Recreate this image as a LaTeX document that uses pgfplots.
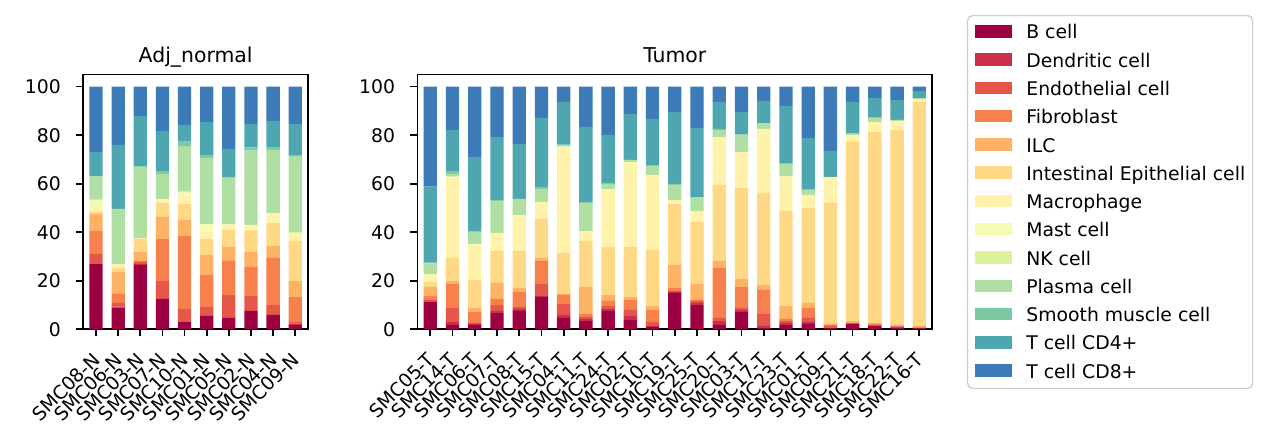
\documentclass[border=0pt]{standalone}
\usepackage{pgfplots}
\pgfplotsset{compat=1.18}
\usepackage{pgfplotstable}
\usepackage{fontspec}
\setmainfont{DejaVu Sans}

\definecolor{cB}{RGB}{158,1,66}
\definecolor{cD}{RGB}{200,48,76}
\definecolor{cEn}{RGB}{230,87,73}
\definecolor{cF}{RGB}{247,129,76}
\definecolor{cILC}{RGB}{253,178,100}
\definecolor{cIE}{RGB}{254,216,133}
\definecolor{cMac}{RGB}{255,243,171}
\definecolor{cMast}{RGB}{245,251,176}
\definecolor{cNK}{RGB}{221,241,154}
\definecolor{cPl}{RGB}{175,223,163}
\definecolor{cSm}{RGB}{123,202,165}
\definecolor{cCD4}{RGB}{78,167,176}
\definecolor{cCD8}{RGB}{60,123,183}

\pgfplotstableread{
name B D En F ILC IE Mac Mast NK Pl Sm CD4 CD8
SMC08-N 26.9 0 4.1 9.5 7.0 0.9 1.9 2.7 0.4 9.5 0.3 9.9 26.9
SMC06-N 8.9 0.4 1.6 3.7 9.0 1.7 1.6 0 0 22.7 0 26.4 24.0
SMC03-N 26.5 0.5 0.8 0.3 3.8 5.5 0.2 0 0 29.2 0.3 20.8 12.1
SMC07-N 12.5 0 7.4 17.3 9.1 5.8 1.6 0 0 10.3 1.2 16.5 18.3
SMC10-N 3.0 0 5.4 30.1 6.6 6.5 3.9 0.8 0.4 18.8 1.8 6.9 15.8
SMC01-N 5.5 0 3.7 13.2 8.2 6.6 3.0 3.2 0 27.2 1.2 13.6 14.6
SMC05-N 4.7 0 9.4 14.1 5.7 7.0 2.0 0.2 0.3 19.1 0 11.8 25.7
SMC02-N 7.6 0 6.1 12.0 6.2 9.0 2.1 0 0 30.6 1.4 9.6 15.4
SMC04-N 5.9 0 4.1 19.4 4.9 9.5 4.1 0 0 26.0 1.2 10.8 14.1
SMC09-N 1.8 0.5 0.7 10.3 6.6 16.5 3.2 0 0.5 31.1 0.6 12.8 15.4
}\normaldata

\pgfplotstableread{
name B D En F ILC IE Mac Mast NK Pl Sm CD4 CD8
SMC05-T 11.4 0.3 0.4 1.6 3.7 2.1 2.9 0.2 0 4.6 0.3 31.3 41.2
SMC14-T 1.8 1.2 5.8 9.9 1.2 9.5 33.1 0.4 0 1.2 1.1 16.9 17.9
SMC06-T 1.8 0.4 0.4 4.5 1.7 11.5 14.0 0.9 0 4.9 0.2 30.7 29.0
SMC07-T 6.7 0.9 2.4 2.5 6.6 13.2 7.4 0 0 13.2 0.4 26.0 20.7
SMC08-T 7.6 0.8 0.8 6.2 1.6 15.3 14.5 0.3 0 6.6 0 22.7 23.6
SMC15-T 13.3 0.4 5.0 9.5 1.2 16.1 6.6 0.4 0 5.3 0.9 28.4 12.9
SMC04-T 4.7 1.2 4.5 3.7 0.5 16.9 43.6 0.2 0 0.6 0.2 17.6 6.3
SMC11-T 3.4 0.9 0.8 1.2 11.1 19.0 4.1 0 0 11.6 0.4 30.9 16.6
SMC24-T 7.6 0.8 1.2 2.1 2.4 19.8 23.5 0.4 0 2.1 0.4 19.8 19.9
SMC02-T 3.8 1.7 2.5 4.1 1.2 20.6 34.6 0.4 0 0.9 0 18.9 11.3
SMC10-T 1.0 0.4 1.6 5.0 1.6 23.1 30.5 0.2 0 3.9 0.4 19.0 13.3
SMC19-T 15.0 0.4 0.3 1.3 9.5 25.1 1.7 0 0 6.2 0.4 29.7 10.4
SMC25-T 10.0 0.9 0.8 0.4 6.6 25.5 4.6 0 0 5.7 0 28.5 17.0
SMC20-T 1.8 1.6 1.3 20.6 2.9 31.3 19.3 0.3 0 3.0 0.5 11.1 6.3
SMC03-T 7.1 0.9 0.8 8.6 3.3 37.5 14.9 0 0 7.0 0.2 9.3 10.4
SMC17-T 0.5 0.9 4.9 9.9 2.1 37.9 26.4 0 0 2.4 0 9.1 5.9
SMC23-T 1.8 0.8 0.8 0.9 5.3 39.2 14.0 0.2 0 5.1 0.4 23.5 8.0
SMC01-T 2.2 0.8 1.7 4.1 2.1 39.1 5.4 0 0 2.0 0.2 21.2 21.2
SMC09-T 0.4 0.4 0.6 0.4 0.4 49.9 10.3 0.2 0 0 0.2 10.7 26.5
SMC21-T 2.1 0.1 0.3 0.1 0.8 73.8 2.5 0.3 0 0.5 0.2 13.0 6.3
SMC18-T 1.4 0.2 0.2 0.4 0.4 78.7 4.1 0 0 1.7 0.1 8.1 4.7
SMC22-T 0.8 0.3 0.1 0.4 0.2 80.3 3.8 0 0 0.4 0 8.2 5.5
SMC16-T 0.3 0.2 0.2 0.3 0.4 92.3 1.1 0 0.2 0.3 0 2.9 1.8
}\tumordata

\pgfplotsset{
  /pgfplots/ybar legend/.style={},
  myaxis/.style={
    scale only axis,
    height=127.4pt,
    ybar stacked,
    bar width=0.6,
    ymin=0, ymax=105,
    ytick={0,20,40,60,80,100},
    tick align=outside,
    tick pos=left,
    major tick length=3.5pt,
    every tick/.style={black, line width=0.85pt},
    axis line style={black, line width=0.85pt},
    /pgf/number format/assume math mode=true,
    tick label style={font=\fontsize{9.4}{11}\selectfont, black},
    yticklabel style={inner sep=0pt},
    yticklabel shift=7.55pt,
    xticklabel style={inner sep=0pt, xshift=-2.4pt, rotate=45, anchor=north east},
    xticklabel shift=7.3pt,
    every axis title shift=0pt,
    title style={font=\fontsize{10.2}{12}\selectfont, at={(0.5,1)}, anchor=base, yshift=6.15pt, inner sep=0pt},
  },
}

\begin{document}
\begin{tikzpicture}
\useasboundingbox (0,0) rectangle (633pt,220.5pt);
\begin{axis}[myaxis,
  at={(41.65pt,55.85pt)}, anchor=south west,
  width=112.35pt,
  xmin=-0.575, xmax=9.575,
  xtick={0,...,9},
  xticklabels from table={\normaldata}{name},
  title={Adj\_normal},
]
\pgfplotsinvokeforeach{B,D,En,F,ILC,IE,Mac,Mast,NK,Pl,Sm,CD4,CD8}{
  \addplot[fill=c#1, draw=none] table[x expr=\coordindex, y=#1] {\normaldata};
}
\end{axis}
\begin{axis}[myaxis,
  at={(208.75pt,55.85pt)}, anchor=south west,
  width=257.3pt,
  xmin=-0.575, xmax=22.575,
  xtick={0,...,22},
  xticklabels from table={\tumordata}{name},
  title={Tumor},
  legend cell align=left,
  legend style={at={(1.0678,1.2335)}, anchor=north west,
    draw=black!20, line width=0.6pt, rounded corners=2.5pt, fill=white,
    font=\fontsize{9.4}{11}\selectfont,
    inner xsep=3.7pt, inner ysep=3.55pt,
    row sep=4.54pt, column sep=7.2pt,
    nodes={inner sep=0pt, text height=8.1pt, text depth=1.5pt}},
]
\pgfplotsinvokeforeach{B,D,En,F,ILC,IE,Mac,Mast,NK,Pl,Sm,CD4,CD8}{
  \addplot[fill=c#1, draw=none,
    legend image code/.code={\fill[c#1, sharp corners, draw=none] (0pt,-2.6pt) rectangle (18.5pt,3.65pt);}]
    table[x expr=\coordindex, y=#1] {\tumordata};
}
\legend{B cell, Dendritic cell, Endothelial cell, Fibroblast, ILC, Intestinal Epithelial cell, Macrophage, Mast cell, NK cell, Plasma cell, Smooth muscle cell, T cell CD4+, T cell CD8+}
\end{axis}
\end{tikzpicture}
\end{document}
